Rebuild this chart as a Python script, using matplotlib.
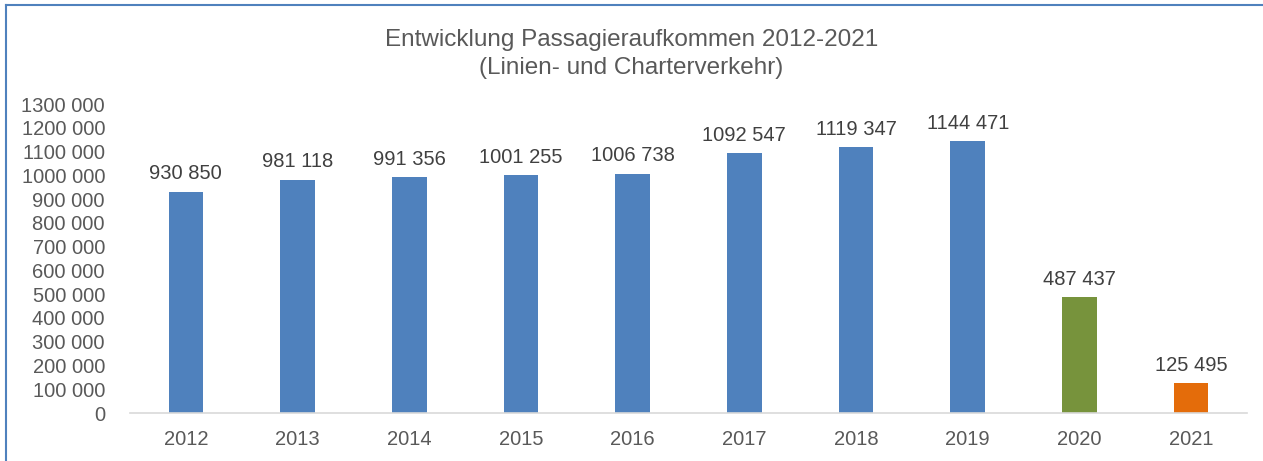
import matplotlib.pyplot as plt
from matplotlib.lines import Line2D

plt.rcParams['font.family'] = ['Liberation Sans', 'DejaVu Sans']

years = ['2012', '2013', '2014', '2015', '2016', '2017', '2018', '2019', '2020', '2021']
passengers = [930850, 981118, 991356, 1001255, 1006738, 1092547, 1119347, 1144471, 487437, 125495]
bar_colors = ['#4F81BD'] * 8 + ['#77933C', '#E46C0A']
y_ticks = list(range(0, 1300001, 100000))


def fmt(v):
    v = int(round(v))
    if v < 1000:
        return str(v)
    return f"{v // 1000} {v % 1000:03d}"


text_col = '#595959'

fig = plt.figure(figsize=(12.63, 4.61), dpi=100)
ax = fig.add_axes([130 / 1263, 48 / 461, 1117 / 1263, 309 / 461])

x = range(len(years))
bars = ax.bar(x, passengers, width=0.31, color=bar_colors)

for b, v in zip(bars, passengers):
    ax.annotate(fmt(v), (b.get_x() + b.get_width() / 2, v), xytext=(0, 6),
                textcoords='offset points', ha='center', va='bottom',
                fontsize=14.5, color='#404040')

ax.set_xlim(-0.5, len(years) - 0.5)
ax.set_ylim(0, 1300000)
ax.set_xticks(list(x))
ax.set_xticklabels(years)
ax.set_yticks(y_ticks)
ax.set_yticklabels([fmt(t) for t in y_ticks])
ax.tick_params(axis='both', length=0, labelsize=14.5, labelcolor=text_col)
ax.tick_params(axis='y', pad=18)
ax.tick_params(axis='x', pad=12)

for s in ['top', 'right', 'left']:
    ax.spines[s].set_visible(False)
ax.spines['bottom'].set_color('#D9D9D9')
ax.spines['bottom'].set_linewidth(1.2)

fig.text(0.5, 407 / 461, 'Entwicklung Passagieraufkommen 2012-2021\n(Linien- und Charterverkehr)',
         ha='center', va='center', fontsize=17.5, color=text_col, linespacing=1.32)

# Rahmen oben und links
fig.add_artist(Line2D([6 / 1263, 1], [1 - 5 / 461, 1 - 5 / 461], color='#4F81BD', lw=1.5,
                      transform=fig.transFigure))
fig.add_artist(Line2D([6 / 1263, 6 / 1263], [0, 1 - 5 / 461], color='#4F81BD', lw=1.5,
                      transform=fig.transFigure))

fig.savefig('out.png', dpi=100)
